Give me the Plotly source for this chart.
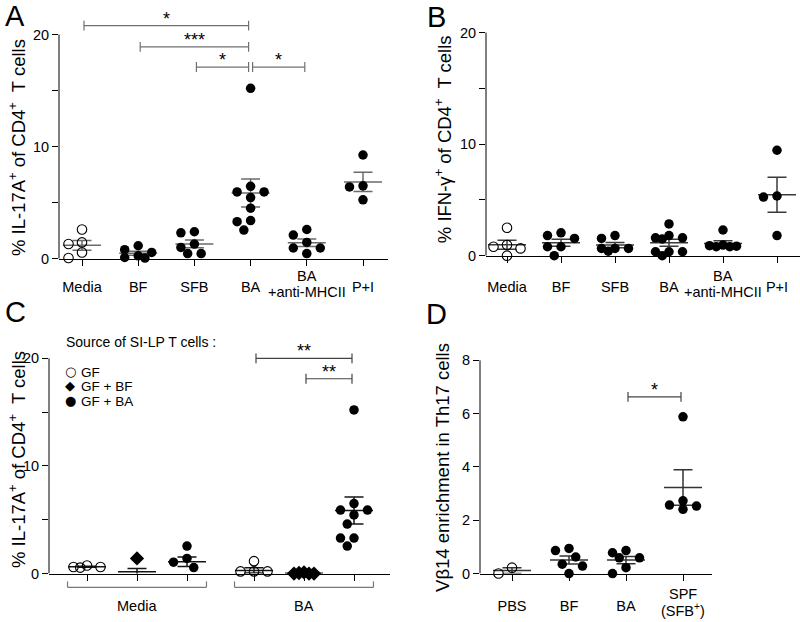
import numpy as np
import plotly.graph_objects as go

# ------------------------------------------------------------------ data
# Panel A: % IL-17A+ of CD4+ T cells
labels_A = ["Media", "BF", "SFB", "BA", "BA<br>+anti-MHCII", "P+I"]
A_media = [2.6, 1.45, 1.3, 0.55, 0.05]
A_bf = [1.15, 0.8, 0.55, 0.25, 0.1, 0.05]
A_sfb = [2.4, 2.3, 1.3, 1.0, 0.45, 0.45]
A_ba = [15.2, 6.45, 5.95, 5.95, 5.45, 4.5, 3.4, 3.3, 2.55]
A_anti = [2.6, 2.1, 1.45, 0.95, 0.95, 0.45]
A_pi = [9.25, 6.5, 6.4, 5.25]
A_sig = [("Media", "BA", "*"), ("BF", "BA", "***"), ("SFB", "BA", "*"), ("BA", "BA<br>+anti-MHCII", "*")]

# Panel B: % IFN-gamma+ of CD4+ T cells
labels_B = ["Media", "BF", "SFB", "BA", "BA<br>+anti-MHCII", "P+I"]
B_media = [2.5, 0.95, 0.8, 0.65, 0.0]
B_bf = [2.05, 1.8, 1.55, 0.8, 0.8, 0.0]
B_sfb = [1.8, 1.55, 0.65, 0.65, 0.65, 0.4]
B_ba = [2.85, 1.8, 1.6, 1.6, 1.5, 0.35, 0.35, 0.35, 0.0]
B_anti = [2.3, 0.95, 0.9, 0.85, 0.8, 0.8]
B_pi = [9.45, 5.35, 5.25, 1.8]

# Panel C: % IL-17A+ of CD4+ T cells by source of SI-LP T cells
groups_C = ["Media", "BA"]
sources_C = ["GF", "GF + BF", "GF + BA"]
C_media_gf = [0.75, 0.6, 0.6, 0.55]
C_media_bf = [1.4, -0.15, -0.15, -0.15, -0.15]
C_media_ba = [2.55, 1.4, 1.05, 0.55, -0.05]
C_ba_gf = [1.15, 0.2, 0.2, 0.2, -0.3]
C_ba_bf = [0.1, 0.05, 0.0, 0.0, 0.0]
C_ba_ba = [15.2, 6.5, 5.9, 5.9, 5.45, 4.6, 3.3, 3.3, 2.55]
C_sig = [(("BA", "GF"), ("BA", "GF + BA"), "**"), (("BA", "GF + BF"), ("BA", "GF + BA"), "**")]

# Panel D: Vbeta14 enrichment in Th17 cells
labels_D = ["PBS", "BF", "BA", "SPF<br>(SFB<sup>+</sup>)"]
D_pbs = [0.22, 0.0]
D_bf = [0.94, 0.86, 0.62, 0.35, 0.28, 0.0]
D_ba = [0.86, 0.78, 0.59, 0.59, 0.22, 0.0]
D_spf = [5.88, 2.73, 2.57, 2.53, 2.41]
D_sig = [("BA", "SPF<br>(SFB<sup>+</sup>)", "*")]

# ------------------------------------------------------------------ layout settings
FONT = "Liberation Sans, Arial, Helvetica, sans-serif"
W, H = 800, 622
TICK_FS = 14.5
TITLE_FS = 18.5


def fx(px):
    return px / W


def fy(py):
    return 1 - py / H


geo = {
    "A": dict(n=1, left=59, right=388, y0=262, top=10, ypu=11.35, c0=82, step=56.2, ymax=20,
              tv=[0, 5, 10, 15, 20], tt=["0", "", "10", "", "20"], ecol="#6a6a6a", bcol="#707070",
              sig_y=[20.8, 18.9, 17.1, 17.1], lab_y=282.5, standoff=9, title_x=17, title_y=150,
              title="% IL-17A<sup>+</sup> of CD4<sup>+</sup>  T cells"),
    "B": dict(n=2, left=486, right=800, y0=259, top=10, ypu=11.3, c0=507, step=54, ymax=20,
              tv=[0, 5, 10, 15, 20], tt=["0", "", "10", "", "20"], ecol="#3a3a3a", bcol="#555555",
              sig_y=[], lab_y=282.5, standoff=12, title_x=443, title_y=141,
              title="% IFN-γ<sup>+</sup> of CD4<sup>+</sup>  T cells"),
    "C": dict(n=3, left=49, right=390, y0=581, top=346, ypu=10.9, c0=137, step=167, ymax=20,
              tv=[0, 5, 10, 15, 20], tt=["0", "", "10", "", "20"], ecol="#151515", bcol="#444444",
              sig_y=[20.0, 18.1], lab_y=608.5, standoff=10, title_x=17, title_y=466,
              title="% IL-17A<sup>+</sup> of CD4<sup>+</sup>  T cells"),
    "D": dict(n=4, left=480, right=712, y0=581, top=350, ypu=27.0, c0=512, step=57, ymax=8,
              tv=[0, 2, 4, 6, 8], tt=["0", "2", "4", "6", "8"], ecol="#333333", bcol="#444444",
              sig_y=[6.63], lab_y=605, standoff=13, title_x=443, title_y=474,
              title="Vβ14 enrichment in Th17 cells"),
}
C_OFF = 50 / 167   # offset of sources inside a group (in group units)
TXT_DY = 5         # visual centre of caps vs. annotation box centre (px)

fig = go.Figure()
annotations = []
shapes = []


def axn(p):
    return ("x", "y") if p["n"] == 1 else ("x%d" % p["n"], "y%d" % p["n"])


def swarm(vals, ppx, ppy, step=6.75, dmin=10.0):
    """simple beeswarm: returns horizontal offsets (data units)"""
    cands = [0.0, -step, step, -2 * step, 2 * step]
    order = sorted(range(len(vals)), key=lambda i: -vals[i])
    placed = []
    res = [0.0] * len(vals)
    for i in order:
        yy = vals[i] * ppy
        best, bestd = None, -1
        for c in cands:
            d = min([np.hypot(c - px, yy - py) for px, py in placed] or [1e9])
            if d >= dmin:
                best = c
                break
            if d > bestd:
                best, bestd = c, d
        placed.append((best, yy))
        res[i] = best / ppx
    return res


def add_group(p, xc, vals, kind):
    xa, ya = axn(p)
    ppx, ppy = p["step"], p["ypu"]
    v = np.array(vals, dtype=float)
    m = v.mean()
    s = v.std(ddof=1) / np.sqrt(len(v))
    mw, cw = 19 / ppx, 9.5 / ppx
    fig.add_trace(go.Scatter(
        x=[xc - mw, xc + mw, None, xc, xc, None, xc - cw, xc + cw, None, xc - cw, xc + cw],
        y=[m, m, None, m - s, m + s, None, m + s, m + s, None, m - s, m - s],
        mode="lines", line=dict(color=p["ecol"], width=1.5), xaxis=xa, yaxis=ya,
        showlegend=False, hoverinfo="skip"))
    if kind == "diamond":
        offs = swarm(vals, ppx, ppy, step=5.0, dmin=4.9)
    else:
        offs = swarm(vals, ppx, ppy)
    xs = [xc + o for o in offs]
    if kind == "open":
        mk = dict(symbol="circle-open", size=9.5, color="black", line=dict(width=1.1, color="black"))
    elif kind == "diamond":
        mk = dict(symbol="diamond", size=11, color="black", line=dict(width=0))
    else:
        mk = dict(symbol="circle", size=9.5, color="black", line=dict(width=0))
    fig.add_trace(go.Scatter(x=xs, y=vals, mode="markers", marker=mk, cliponaxis=False,
                             xaxis=xa, yaxis=ya, showlegend=False))


def add_bracket(p, x0, x1, yb, txt):
    xa, ya = axn(p)
    ins = 2 / p["step"]
    h = 5 / p["ypu"]
    a, b = x0 + ins, x1 - ins
    fig.add_trace(go.Scatter(
        x=[a, a, None, a, b, None, b, b], y=[yb - h, yb + h, None, yb, yb, None, yb - h, yb + h],
        mode="lines", line=dict(color=p["bcol"], width=1.2), xaxis=xa, yaxis=ya,
        showlegend=False, hoverinfo="skip"))
    annotations.append(dict(x=(a + b) / 2, y=yb, xref=xa, yref=ya, text=txt, showarrow=False,
                            yanchor="bottom", yshift=-5, font=dict(size=18, color="black", family=FONT)))


def setup_axes(p, tickvals, ticktext, show_x_labels=True):
    xa, ya = axn(p)
    xr = [(p["left"] - p["c0"]) / p["step"], (p["right"] - p["c0"]) / p["step"]]
    yr = [0, (p["y0"] - p["top"]) / p["ypu"]]
    xkey = "xaxis" if p["n"] == 1 else "xaxis%d" % p["n"]
    ykey = "yaxis" if p["n"] == 1 else "yaxis%d" % p["n"]
    xcfg = dict(domain=[fx(p["left"]), fx(p["right"])], range=xr, anchor=ya,
                showline=True, linecolor="black", linewidth=1, ticks="outside",
                ticklen=6, tickcolor="black", tickwidth=1, tickmode="array", tickvals=tickvals,
                showticklabels=show_x_labels, ticklabelstandoff=p["standoff"],
                showgrid=False, zeroline=False,
                tickfont=dict(size=TICK_FS, color="black", family=FONT), fixedrange=True)
    if show_x_labels:
        xcfg["ticktext"] = ticktext
    fig.layout[xkey] = xcfg
    fig.layout[ykey] = dict(domain=[fy(p["y0"]), fy(p["top"])], range=yr, anchor=xa,
                            showline=False, ticks="outside", ticklen=6, tickcolor="black",
                            tickwidth=1, tickmode="array", tickvals=p["tv"], ticktext=p["tt"],
                            showgrid=False, zeroline=False,
                            tickfont=dict(size=TICK_FS, color="black", family=FONT), fixedrange=True)
    shapes.append(dict(type="line", xref=xa + " domain", yref=ya, x0=0, x1=0, y0=0, y1=p["ymax"],
                       line=dict(color="black", width=1)))
    annotations.append(dict(x=fx(p["title_x"]), y=fy(p["title_y"]),
                            xref="paper", yref="paper", text=p["title"], textangle=-90,
                            showarrow=False, xanchor="center", yanchor="middle",
                            font=dict(size=TITLE_FS, color="black", family=FONT)))


def cat_axis(p, labels, positions):
    """single-line labels are tick labels; two-line labels are drawn as two tight lines"""
    xa, ya = axn(p)
    tt = []
    for lab, x in zip(labels, positions):
        if "<br>" in lab:
            tt.append("")
            l1, l2 = lab.split("<br>")
            annotations.append(dict(x=x, y=fy(p["lab_y"] - 8.0 + TXT_DY), xref=xa, yref="paper", text=l1,
                                    showarrow=False, yanchor="middle", borderpad=0,
                                    font=dict(size=TICK_FS, color="black", family=FONT)))
            annotations.append(dict(x=x, y=fy(p["lab_y"] + 8.0 + TXT_DY), xref=xa, yref="paper", text=l2,
                                    showarrow=False, yanchor="middle", borderpad=0,
                                    font=dict(size=TICK_FS, color="black", family=FONT)))
        else:
            tt.append(lab)
    setup_axes(p, positions, tt)


# ------------------------------------------------------------------ panel A
p = geo["A"]
posA = list(range(len(labels_A)))
for x, vals, kind in zip(posA, [A_media, A_bf, A_sfb, A_ba, A_anti, A_pi],
                         ["open", "fill", "fill", "fill", "fill", "fill"]):
    add_group(p, x, vals, kind)
for (g0, g1, txt), yb in zip(A_sig, p["sig_y"]):
    add_bracket(p, labels_A.index(g0), labels_A.index(g1), yb, txt)
cat_axis(p, labels_A, posA)

# ------------------------------------------------------------------ panel B
p = geo["B"]
posB = list(range(len(labels_B)))
for x, vals, kind in zip(posB, [B_media, B_bf, B_sfb, B_ba, B_anti, B_pi],
                         ["open", "fill", "fill", "fill", "fill", "fill"]):
    add_group(p, x, vals, kind)
cat_axis(p, labels_B, posB)

# ------------------------------------------------------------------ panel C
p = geo["C"]
C_vals = {("Media", "GF"): C_media_gf, ("Media", "GF + BF"): C_media_bf, ("Media", "GF + BA"): C_media_ba,
          ("BA", "GF"): C_ba_gf, ("BA", "GF + BF"): C_ba_bf, ("BA", "GF + BA"): C_ba_ba}
kinds_C = {"GF": "open", "GF + BF": "diamond", "GF + BA": "fill"}


def posC(g, s):
    return groups_C.index(g) + (sources_C.index(s) - 1) * C_OFF


tvC = []
for g in groups_C:
    for s in sources_C:
        add_group(p, posC(g, s), C_vals[(g, s)], kinds_C[s])
        tvC.append(posC(g, s))
for (a, b, txt), yb in zip(C_sig, p["sig_y"]):
    add_bracket(p, posC(*a), posC(*b), yb, txt)
setup_axes(p, tvC, None, show_x_labels=False)
half = 0.416
for gi, g in enumerate(groups_C):
    for xx0, xx1, yy0, yy1 in [(gi - half, gi + half, 595, 595), (gi - half, gi - half, 589, 595),
                               (gi + half, gi + half, 589, 595)]:
        shapes.append(dict(type="line", xref="x3", yref="paper", x0=xx0, x1=xx1, y0=fy(yy0), y1=fy(yy1),
                           line=dict(color="#777777", width=1.2)))
    annotations.append(dict(x=gi, y=fy(p["lab_y"] + TXT_DY), xref="x3", yref="paper", text=g,
                            showarrow=False, yanchor="middle", borderpad=0,
                            font=dict(size=TICK_FS, color="black", family=FONT)))
annotations.append(dict(x=fx(65), y=fy(342 + 4), xref="paper", yref="paper", text="Source of SI-LP T cells :",
                        showarrow=False, xanchor="left", yanchor="middle", borderpad=0,
                        font=dict(size=14, color="black", family=FONT)))
for s, sym, yy in zip(sources_C, ["○", "◆", "●"], [373, 388, 403]):
    annotations.append(dict(x=fx(70), y=fy(yy + 3), xref="paper", yref="paper", text=sym, showarrow=False,
                            xanchor="center", yanchor="middle", borderpad=0,
                            font=dict(size=13, color="black", family="DejaVu Sans")))
    annotations.append(dict(x=fx(80), y=fy(yy + 4), xref="paper", yref="paper", text=s, showarrow=False,
                            xanchor="left", yanchor="middle", borderpad=0,
                            font=dict(size=13.5, color="black", family=FONT)))

# ------------------------------------------------------------------ panel D
p = geo["D"]
posD = list(range(len(labels_D)))
for x, vals, kind in zip(posD, [D_pbs, D_bf, D_ba, D_spf], ["open", "fill", "fill", "fill"]):
    add_group(p, x, vals, kind)
for (g0, g1, txt), yb in zip(D_sig, p["sig_y"]):
    add_bracket(p, labels_D.index(g0), labels_D.index(g1), yb, txt)
cat_axis(p, labels_D, posD)

# ------------------------------------------------------------------ panel letters
for letter, xx, yy in [("A", 3, 16), ("B", 425, 17), ("C", 3, 316), ("D", 424, 318)]:
    annotations.append(dict(x=fx(xx), y=fy(yy), xref="paper", yref="paper", text=letter, showarrow=False,
                            xanchor="left", yanchor="middle", font=dict(size=29, color="black", family=FONT)))

fig.update_layout(width=W, height=H, margin=dict(l=0, r=0, t=0, b=0), paper_bgcolor="white",
                  plot_bgcolor="white", showlegend=False, annotations=annotations, shapes=shapes,
                  font=dict(family=FONT, color="black"))
fig.write_html("out.html", config={"displayModeBar": False},
               post_script="document.body.style.margin='0px';document.body.style.overflow='hidden';")
